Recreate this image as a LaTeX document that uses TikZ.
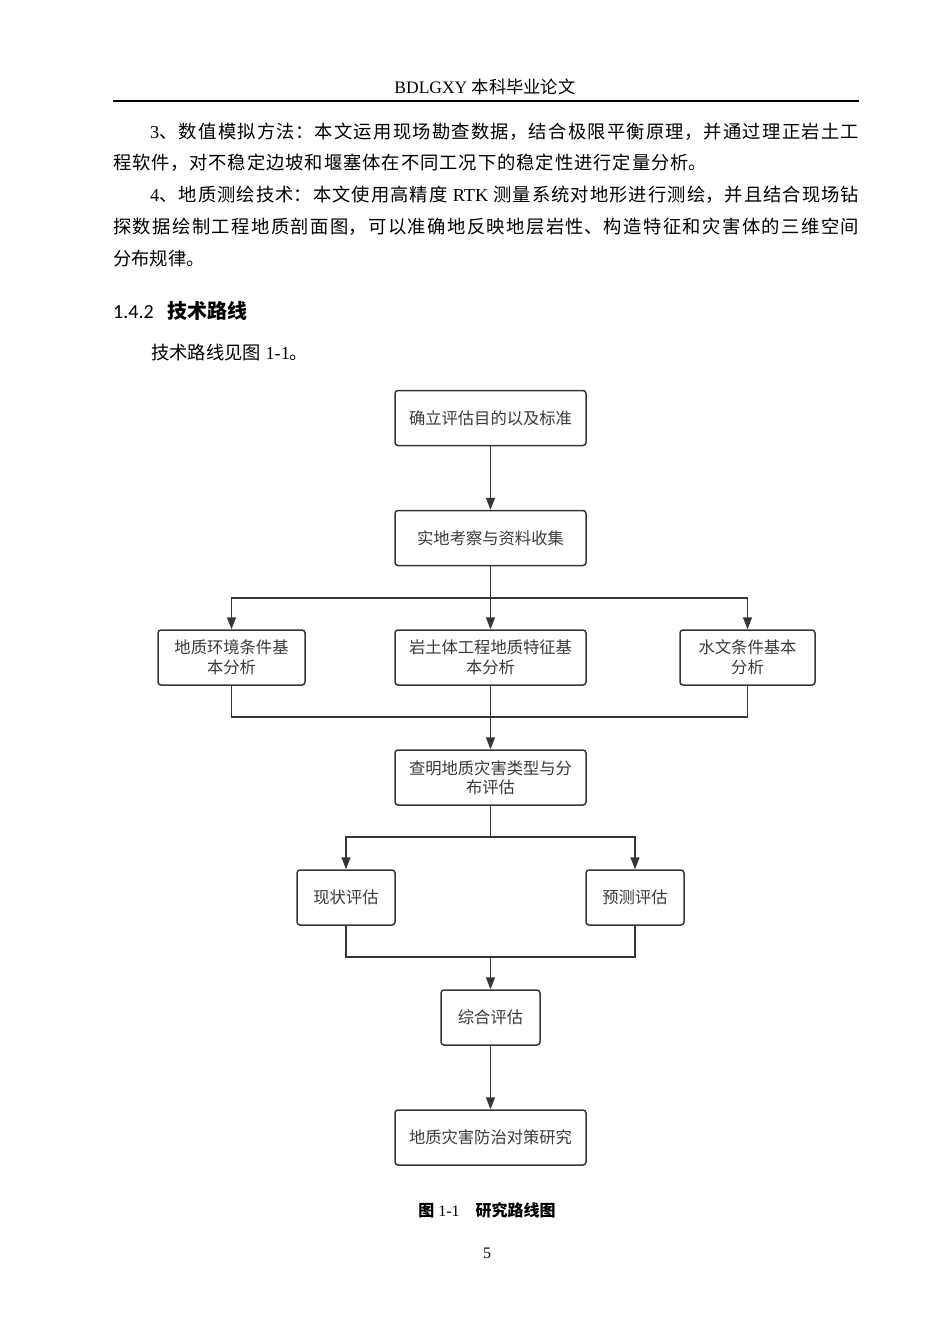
\documentclass[tikz,border=0pt]{standalone}
\usepackage{fontspec}
\setmainfont{Liberation Serif}
\newfontfamily\cjk{Noto Sans CJK SC}
\newfontfamily\carl{Carlito}
\usetikzlibrary{arrows.meta}
\definecolor{boxc}{HTML}{363636}
\definecolor{boxt}{HTML}{3A3A3A}
\tikzset{
 body/.style={anchor=west, inner sep=0pt, align=justify, font=\fontsize{18.3}{22}\selectfont},
 fbox/.style={draw=boxc, line width=1.5pt, rounded corners=3pt, minimum height=55pt, inner sep=0pt, align=center, text=boxt, font=\cjk\fontsize{16.3}{19.5}\selectfont},
 arr/.style={draw=boxc, line width=1.5pt, -{Triangle[length=12pt,width=9pt]}},
 ln/.style={draw=boxc, line width=1.5pt},
}
\newcommand\jline[1]{\XeTeXlinebreaklocale "zh"\XeTeXlinebreakskip=0pt plus 4pt\parfillskip=0pt\noindent #1\par}
\begin{document}
\begin{tikzpicture}[x=1pt,y=-1pt]
\useasboundingbox (0,0) rectangle (950,1344);
\fill[white] (0,0) rectangle (950,1344);
% header
\node[font=\fontsize{17.5}{19}\selectfont] (hdr) at (485,87) {BDLGXY {\cjk\fontsize{17.3}{19}\selectfont 本科毕业论文}};
\draw[line width=2pt] (113,101) -- (859,101);
% body text
\node[body, text width=709pt] (l1) at (150,132) {\jline{3{\cjk 、数值模拟方法：本文运用现场勘查数据，结合极限平衡原理，并通过理正岩土工}}};
\node[body, text width=594pt] (l2) at (113,163) {\jline{{\cjk 程软件，对不稳定边坡和堰塞体在不同工况下的稳定性进行定量分析。}}};
\node[body, text width=709pt] (l3) at (150,195) {\jline{4{\cjk 、地质测绘技术：本文使用高精度} RTK {\cjk 测量系统对地形进行测绘，并且结合现场钻}}};
\node[body, text width=746pt] (l4) at (113,227) {\jline{{\cjk 探数据绘制工程地质剖面图，可以准确地反映地层岩性、构造特征和灾害体的三维空间}}};
\node[body, text width=746pt] (l5) at (113,259) {{\cjk 分布规律。}};
\node[anchor=west, inner sep=0pt, font=\fontsize{20}{22}\selectfont] (h) at (113,311) {{\carl 1.4.2}\hspace{14pt}{\cjk\bfseries 技术路线}};
\node[anchor=west, inner sep=0pt, font=\fontsize{18.3}{22}\selectfont] (t) at (151,353) {{\cjk 技术路线见图} 1-1{\cjk 。}};
% flowchart
\node[fbox, minimum width=191pt] (b1) at (490.5,418) {确立评估目的以及标准};
\node[fbox, minimum width=191pt] (b2) at (490.5,538) {实地考察与资料收集};
\node[fbox, minimum width=147pt] (b3a) at (231.5,657.5) {地质环境条件基\\本分析};
\node[fbox, minimum width=191pt] (b3b) at (490.5,657.5) {岩土体工程地质特征基\\本分析};
\node[fbox, minimum width=135pt] (b3c) at (747.5,657.5) {水文条件基本\\分析};
\node[fbox, minimum width=191pt] (b4) at (490.5,777.5) {查明地质灾害类型与分\\布评估};
\node[fbox, minimum width=98pt] (b5a) at (346,897.5) {现状评估};
\node[fbox, minimum width=98pt] (b5b) at (635,897.5) {预测评估};
\node[fbox, minimum width=99pt] (b6) at (490.5,1017.5) {综合评估};
\node[fbox, minimum width=191pt] (b7) at (490.5,1137.5) {地质灾害防治对策研究};
\coordinate (j1) at (490.5,598);
\coordinate (j2) at (490.5,717);
\coordinate (j3) at (490.5,837);
\coordinate (j4) at (490.5,957);
\draw[arr] (b1) -- (b2);
\draw[ln] (b2.south) -- (j1);
\draw[arr] (j1) -| (b3a.north);
\draw[arr] (j1) -| (b3c.north);
\draw[arr] (j1) -- (b3b.north);
\draw[ln] (b3a.south) |- (j2);
\draw[ln] (b3c.south) |- (j2);
\draw[arr] (b3b) -- (b4);
\draw[ln] (b4.south) -- (j3);
\draw[arr] (j3) -| (b5a.north);
\draw[arr] (j3) -| (b5b.north);
\draw[ln] (b5a.south) |- (j4);
\draw[ln] (b5b.south) |- (j4);
\draw[arr] (j4) -- (b6.north);
\draw[arr] (b6) -- (b7);
% caption and page number
\node[font=\fontsize{16}{18}\selectfont] (cap) at (487,1210) {{\cjk\bfseries 图} 1-1\hspace{16pt}{\cjk\bfseries 研究路线图}};
\node[font=\fontsize{16}{18}\selectfont] (pg) at (487,1253) {5};
\end{tikzpicture}
\end{document}
